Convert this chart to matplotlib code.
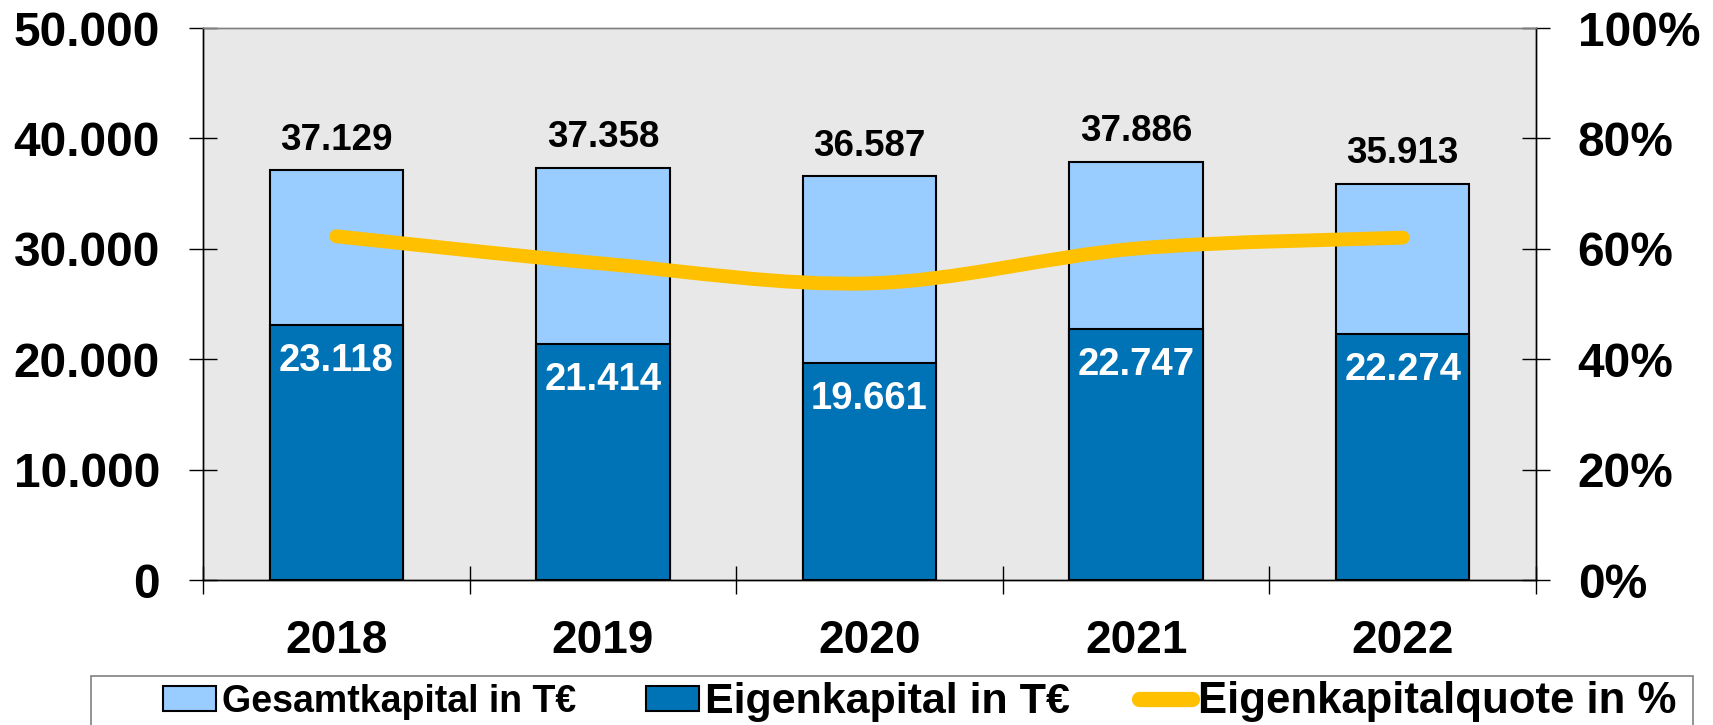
import numpy as np
import matplotlib
matplotlib.use("Agg")
import matplotlib.pyplot as plt
from matplotlib.path import Path
from matplotlib.patches import PathPatch, Rectangle
from matplotlib.lines import Line2D

# donnees
jahre = ["2018", "2019", "2020", "2021", "2022"]
gesamtkapital = [37129, 37358, 36587, 37886, 35913]
eigenkapital = [23118, 21414, 19661, 22747, 22274]

y_ticks = [0, 10000, 20000, 30000, 40000, 50000]
pct_ticks = [0, 20, 40, 60, 80, 100]

hell = "#99CCFF"
dunkel = "#0073B7"
gelb = "#FFC000"


def fmt(v):
    return f"{v:,.0f}".replace(",", ".")


def smooth_path(xs, ys):
    # courbe lissee comme dans Excel (bezier a partir des points)
    pts = np.column_stack([xs, ys]).astype(float)
    n = len(pts)
    verts = [pts[0]]
    codes = [Path.MOVETO]
    for i in range(n - 1):
        p0 = pts[max(i - 1, 0)]
        p1 = pts[i]
        p2 = pts[i + 1]
        p3 = pts[min(i + 2, n - 1)]
        verts += [p1 + (p2 - p0) / 6, p2 - (p3 - p1) / 6, p2]
        codes += [Path.CURVE4] * 3
    return Path(verts, codes)


def main():
    plt.rcParams["font.family"] = ["Liberation Sans", "DejaVu Sans"]
    plt.rcParams["font.weight"] = "bold"

    quote = [100 * e / g for e, g in zip(eigenkapital, gesamtkapital)]
    x = np.arange(len(jahre))

    fig = plt.figure(figsize=(17.13, 7.25), dpi=100)
    ax = fig.add_axes([203 / 1713, 1 - 580 / 725, 1333 / 1713, 552 / 725])
    ax.set_facecolor("#E8E8E8")

    ax.bar(x, gesamtkapital, width=0.5, color=hell, edgecolor="black", linewidth=1.5,
           label="Gesamtkapital in T€", zorder=2)
    ax.bar(x, eigenkapital, width=0.5, color=dunkel, edgecolor="black", linewidth=1.5,
           label="Eigenkapital in T€", zorder=3)

    for xi, g, e in zip(x, gesamtkapital, eigenkapital):
        ax.annotate(fmt(g), (xi, g), xytext=(0, 9), textcoords="offset points",
                    ha="center", va="bottom", fontsize=26.5, fontweight="bold", color="black")
        ax.annotate(fmt(e), (xi, e), xytext=(0, -13), textcoords="offset points",
                    ha="center", va="top", fontsize=27.5, fontweight="bold", color="white", zorder=4)

    ax.set_xlim(-0.5, len(jahre) - 0.5)
    ax.set_ylim(0, 50000)
    ax.set_yticks(y_ticks, [fmt(v) for v in y_ticks])
    ax.set_xticks(x, jahre)
    ax.set_xticks(np.arange(-0.5, len(jahre), 1), minor=True)
    ax.tick_params(axis="x", which="major", length=0, pad=28, labelsize=33)
    ax.tick_params(axis="x", which="minor", direction="inout", length=20, width=1)
    ax.tick_params(axis="y", direction="inout", length=20, width=1, pad=21, labelsize=34.5)

    ax2 = ax.twinx()
    ax2.set_ylim(0, 100)
    ax2.set_yticks(pct_ticks, [f"{p}%" for p in pct_ticks])
    ax2.tick_params(axis="y", direction="inout", length=20, width=1, pad=20, labelsize=34.5)

    # ligne de la quote
    line = PathPatch(smooth_path(x, quote), fill=False, edgecolor=gelb, linewidth=10,
                     capstyle="round", joinstyle="round", transform=ax2.transData)
    ax2.add_patch(line)

    for a in (ax, ax2):
        for s in a.spines.values():
            s.set_linewidth(1)
            s.set_color("black")
        a.spines["top"].set_color("#808080")

    # legende en bas
    handles = [
        plt.Rectangle((0, 0), 1, 1, facecolor=hell, edgecolor="black", linewidth=1.5),
        plt.Rectangle((0, 0), 1, 1, facecolor=dunkel, edgecolor="black", linewidth=1.5),
        Line2D([], [], color=gelb, linewidth=11, solid_capstyle="round"),
    ]
    labels = ["Gesamtkapital in T€", "Eigenkapital in T€", "Eigenkapitalquote in %"]
    leg = fig.legend(handles, labels, loc="center left", bbox_to_anchor=(163 / 1713, 1 - 701 / 725),
                     ncol=3, frameon=False, fontsize=28, borderpad=0, borderaxespad=0,
                     handlelength=1.36, handleheight=0.6, handletextpad=0.15, columnspacing=1.8)
    for t, fs in zip(leg.get_texts(), [27, 31, 31.5]):
        t.set_fontsize(fs)
        t.set_fontweight("bold")

    cadre = Rectangle((91 / 1713, -0.1), 1602 / 1713, 0.1 + 1 - 676 / 725, transform=fig.transFigure,
                      fill=False, edgecolor="#808080", linewidth=1.2)
    fig.patches.append(cadre)

    fig.savefig("out.png", dpi=100)


if __name__ == "__main__":
    main()
